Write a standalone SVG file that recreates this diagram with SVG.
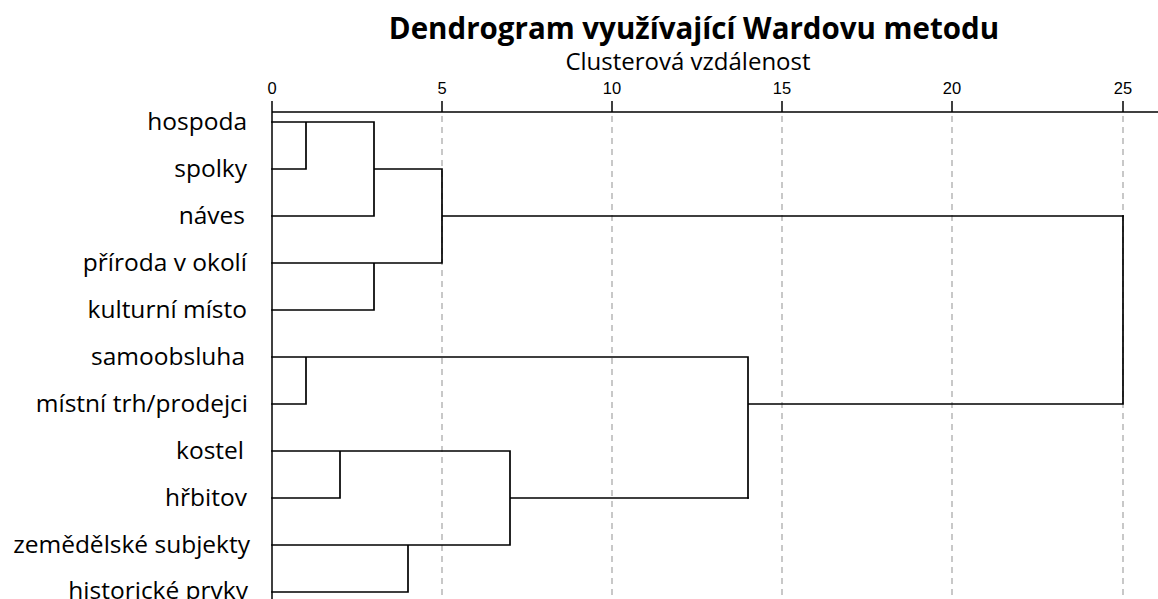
<svg xmlns="http://www.w3.org/2000/svg" width="1158" height="599" viewBox="0 0 1158 599">
<style>
.title{font-family:"Open Sans","Noto Sans",sans-serif;font-weight:bold;font-size:29.5px;fill:#000;text-anchor:middle}
.sub{font-family:"Open Sans","Noto Sans",sans-serif;font-size:24px;fill:#000;text-anchor:middle}
.tick{font-family:"Liberation Sans",Arial,sans-serif;font-size:16.5px;fill:#000;text-anchor:middle}
.lbl{font-family:"Open Sans","Noto Sans",sans-serif;font-size:24.5px;fill:#000;text-anchor:end}
.grid{stroke:#c8c8c8;stroke-width:2;stroke-dasharray:6 5;fill:none}
.ax{stroke:#000;stroke-width:1.5;fill:none}
.ln{stroke:#000;stroke-width:1.7;fill:none;stroke-linecap:square}
</style>
<rect width="1158" height="599" fill="#fff"/>
<text class="title" x="694" y="39">Dendrogram využívající Wardovu metodu</text>
<text class="sub" x="688" y="70">Clusterová vzdálenost</text>
<g id="grid">
<line class="grid" x1="442" y1="116" x2="442" y2="599"/>
<line class="grid" x1="612" y1="116" x2="612" y2="599"/>
<line class="grid" x1="782" y1="116" x2="782" y2="599"/>
<line class="grid" x1="952" y1="116" x2="952" y2="599"/>
<line class="grid" x1="1123" y1="116" x2="1123" y2="599"/>
</g>
<g id="axis">
<line class="ax" x1="272" y1="112" x2="1158" y2="112"/>
<line class="ax" x1="272" y1="101" x2="272" y2="599"/>
<line class="ax" x1="442" y1="101" x2="442" y2="112"/>
<line class="ax" x1="612" y1="101" x2="612" y2="112"/>
<line class="ax" x1="782" y1="101" x2="782" y2="112"/>
<line class="ax" x1="952" y1="101" x2="952" y2="112"/>
<line class="ax" x1="1123" y1="101" x2="1123" y2="112"/>
<text class="tick" x="272" y="94">0</text>
<text class="tick" x="442" y="94">5</text>
<text class="tick" x="612" y="94">10</text>
<text class="tick" x="782" y="94">15</text>
<text class="tick" x="952" y="94">20</text>
<text class="tick" x="1123" y="94">25</text>
</g>
<g id="labels">
<g id="n-hospoda"><text class="lbl" x="247" y="130">hospoda</text></g>
<g id="n-spolky"><text class="lbl" x="247" y="177">spolky</text></g>
<g id="n-naves"><text class="lbl" x="245" y="224">náves</text></g>
<g id="n-priroda"><text class="lbl" x="247" y="271">příroda v okolí</text></g>
<g id="n-kulturni"><text class="lbl" x="247" y="318">kulturní místo</text></g>
<g id="n-samoobsluha"><text class="lbl" x="245" y="365">samoobsluha</text></g>
<g id="n-mistni"><text class="lbl" x="248" y="412">místní trh/prodejci</text></g>
<g id="n-kostel"><text class="lbl" x="244" y="459">kostel</text></g>
<g id="n-hrbitov"><text class="lbl" x="247" y="506">hřbitov</text></g>
<g id="n-zemedelske"><text class="lbl" x="250" y="553">zemědělské subjekty</text></g>
<g id="n-historicke"><text class="lbl" x="248" y="599">historické prvky</text></g>
</g>
<g id="connectors">
<path class="ln" d="M272 122H374 M306 122V169 M272 169H306 M374 122V216 M272 216H374 M374 169H442 M442 169V263 M272 263H442 M374 263V310 M272 310H374 M442 216H1123"/>
<path class="ln" d="M272 357H748 M306 357V404 M272 404H306 M748 357V498 M748 404H1123 M1123 216V404"/>
<path class="ln" d="M272 451H510 M340 451V498 M272 498H340 M510 451V545 M510 498H748 M272 545H510 M408 545V592 M272 592H408"/>
</g>
</svg>
